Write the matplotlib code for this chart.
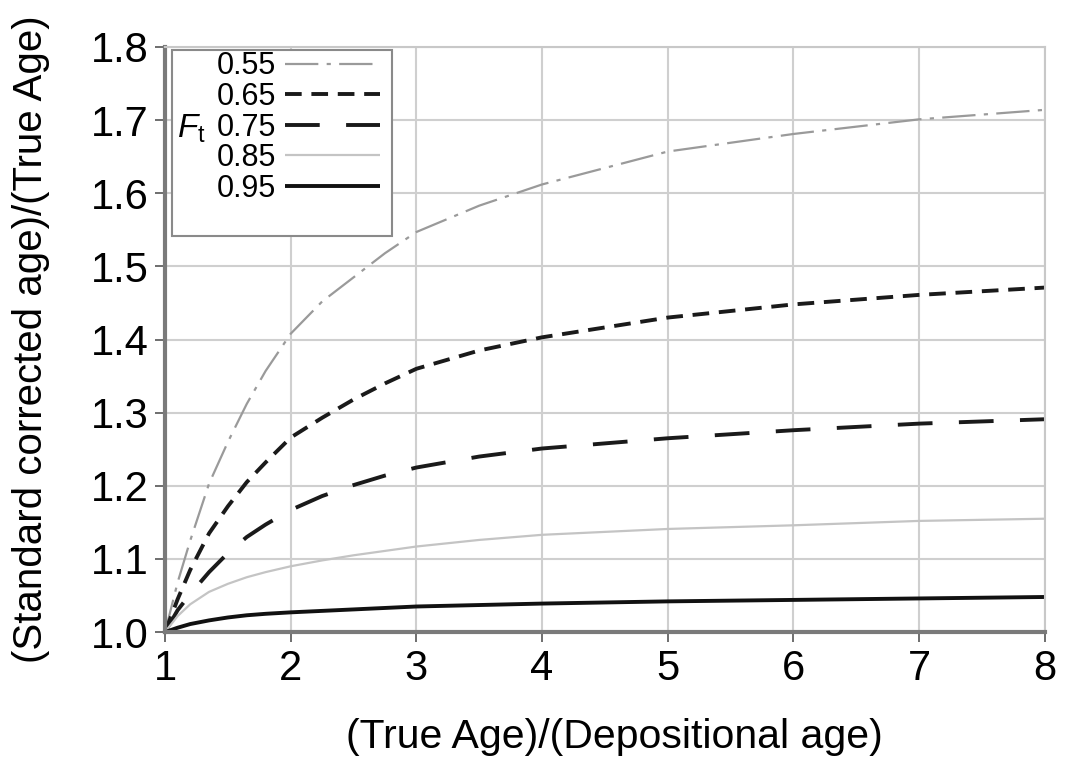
import matplotlib
matplotlib.use("Agg")
import matplotlib.pyplot as plt
from matplotlib.patches import Rectangle

plt.rcParams['font.family'] = ['Liberation Sans', 'DejaVu Sans']
plt.rcParams['mathtext.fontset'] = 'custom'
plt.rcParams['mathtext.rm'] = 'Liberation Sans'
plt.rcParams['mathtext.it'] = 'Liberation Sans:italic'
plt.rcParams['lines.scale_dashes'] = False

# Data
x = [1.0, 1.1, 1.2, 1.35, 1.5, 1.65, 1.8, 2.0, 2.25, 2.5, 2.75, 3.0, 3.5, 4.0, 5.0, 6.0, 7.0, 8.0]
ft_labels = ["0.55", "0.65", "0.75", "0.85", "0.95"]
y_055 = [1.000, 1.068, 1.125, 1.203, 1.260, 1.312, 1.357, 1.408, 1.452, 1.485, 1.518, 1.547,
         1.583, 1.612, 1.657, 1.681, 1.701, 1.714]
y_065 = [1.000, 1.045, 1.085, 1.135, 1.172, 1.205, 1.232, 1.266, 1.293, 1.318, 1.340, 1.360,
         1.385, 1.403, 1.430, 1.448, 1.461, 1.471]
y_075 = [1.000, 1.030, 1.052, 1.082, 1.108, 1.130, 1.147, 1.167, 1.186, 1.201, 1.214, 1.225,
         1.240, 1.251, 1.265, 1.276, 1.285, 1.291]
y_085 = [1.000, 1.022, 1.038, 1.055, 1.066, 1.075, 1.082, 1.090, 1.098, 1.105, 1.111, 1.117,
         1.126, 1.133, 1.141, 1.146, 1.152, 1.155]
y_095 = [1.000, 1.006, 1.011, 1.016, 1.020, 1.023, 1.025, 1.027, 1.029, 1.031, 1.033, 1.035,
         1.037, 1.039, 1.042, 1.044, 1.046, 1.048]
xticks = [1, 2, 3, 4, 5, 6, 7, 8]
yticks = [1.0, 1.1, 1.2, 1.3, 1.4, 1.5, 1.6, 1.7, 1.8]

series = [y_055, y_065, y_075, y_085, y_095]
styles = [
    dict(color='#9a9a9a', lw=1.6, dashes=(24, 6, 3, 6)),
    dict(color='#1a1a1a', lw=2.8, dashes=(12, 7)),
    dict(color='#1a1a1a', lw=2.8, dashes=(25, 19)),
    dict(color='#c4c4c4', lw=1.6),
    dict(color='#111111', lw=2.8),
]

fig = plt.figure(figsize=(10.65, 7.57), dpi=100)
ax = fig.add_axes([0.155, 0.165, 0.826, 0.773])

handles = []
for ys, st, lab in zip(series, styles, ft_labels):
    h, = ax.plot(x, ys, solid_capstyle='butt', dash_capstyle='butt',
                 solid_joinstyle='round', label=lab, **st)
    handles.append(h)

ax.set_xlim(1, 8)
ax.set_ylim(1.0, 1.8)
ax.set_xticks(xticks)
ax.set_yticks(yticks)
ax.set_xticklabels([str(v) for v in xticks])
ax.set_yticklabels([f"{v:.1f}" for v in yticks])
ax.tick_params(axis='both', labelsize=30, length=7, width=1.2, color='#555555', direction='out')
ax.tick_params(axis='y', pad=5)
ax.tick_params(axis='x', pad=5)
ax.grid(True, color='#cfcfcf', lw=1.5)
ax.set_axisbelow(True)

for s in ['top', 'right']:
    ax.spines[s].set_color('#c8c8c8')
    ax.spines[s].set_linewidth(1.5)
for s in ['left', 'bottom']:
    ax.spines[s].set_color('#7a7a7a')
    ax.spines[s].set_linewidth(3)

ax.set_xlabel("(True Age)/(Depositional age)", fontsize=29.5, labelpad=21)
ax.xaxis.label.set_x(0.511)
ax.set_ylabel("(Standard corrected age)/(True Age)", fontsize=29)
ax.yaxis.set_label_coords(-0.131, 0.5)

# Legend (labels left, handles right) plus a separate frame with F_t label
leg = ax.legend(handles=handles, loc='upper left', bbox_to_anchor=(0.052, 1.003),
                frameon=False, markerfirst=False, fontsize=22, handlelength=3.1,
                handletextpad=0.3, labelspacing=0.02, borderpad=0.2, borderaxespad=0)
ax.add_patch(Rectangle((0.008, 0.677), 0.25, 0.318, transform=ax.transAxes,
                       fill=True, facecolor='white', edgecolor='#8a8a8a', lw=1.5, zorder=4))
leg.set_zorder(5)
ax.text(0.014, 0.86, r"$\mathit{F}_{\mathrm{t}}$", transform=ax.transAxes,
        fontsize=24, va='center', ha='left', zorder=6)

fig.savefig("out.png", dpi=100)
